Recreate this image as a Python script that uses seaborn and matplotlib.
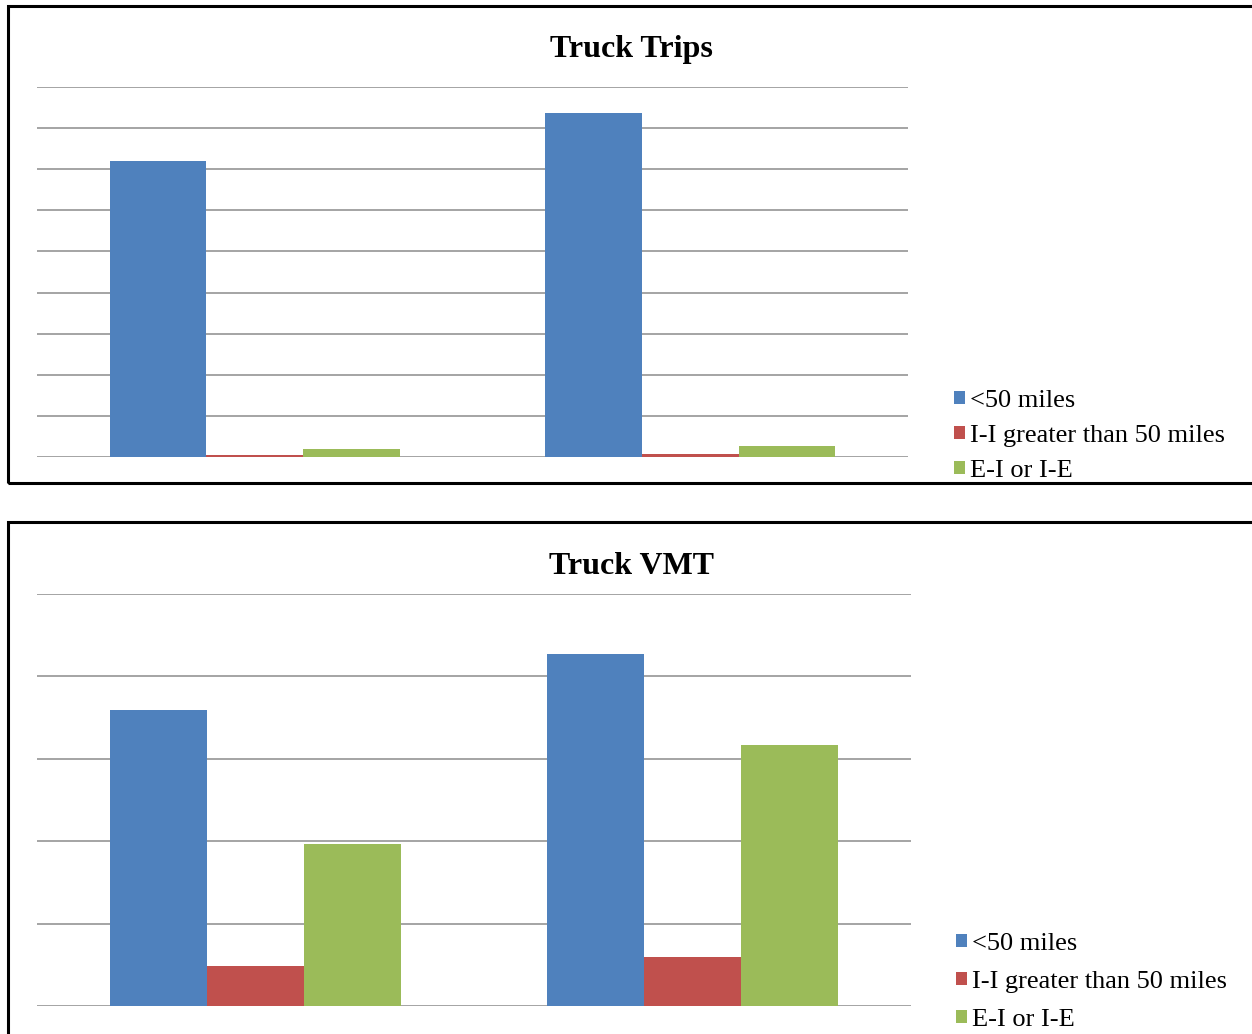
import matplotlib
matplotlib.use("Agg")
import matplotlib.pyplot as plt
import matplotlib.patches as mpatches
import pandas as pd
import seaborn as sns

# values read off the gridlines (units = gridline steps, no axis labels in the source)
groups = ["Group 1", "Group 2"]
trip_types = ["<50 miles", "I-I greater than 50 miles", "E-I or I-E"]
trips_lt50 = [7.2, 8.37]
trips_ii50 = [0.05, 0.08]
trips_ei = [0.19, 0.27]
vmt_lt50 = [3.59, 4.27]
vmt_ii50 = [0.485, 0.595]
vmt_ei = [1.97, 3.17]

palette = {"<50 miles": "#4f81bd", "I-I greater than 50 miles": "#c0504d",
           "E-I or I-E": "#9bbb59"}

def make_df(a, b, c):
    rows = []
    for series, vals in zip(trip_types, [a, b, c]):
        for g, v in zip(groups, vals):
            rows.append({"group": g, "type": series, "value": v})
    return pd.DataFrame(rows)

trips_df = make_df(trips_lt50, trips_ii50, trips_ei)
vmt_df = make_df(vmt_lt50, vmt_ii50, vmt_ei)

sns.set_style("white")
plt.rcParams["font.family"] = ["Liberation Serif", "DejaVu Serif"]
plt.rcParams["text.color"] = "black"

W, H = 1252, 1034
fig = plt.figure(figsize=(W / 100, H / 100), dpi=100)

# panel frames
for (x0, y0, x1, y1) in [(8, 6, 1260, 483), (8, 522, 1260, 1045)]:
    fig.patches.append(mpatches.Rectangle(
        (x0 / W, 1 - y1 / H), (x1 - x0) / W, (y1 - y0) / H,
        transform=fig.transFigure, fill=False, edgecolor="black", lw=2.2))

def panel(df, rect, ymax, title, title_y, leg_y, leg_x, leg_space):
    ax = fig.add_axes(rect)
    sns.barplot(data=df, x="group", y="value", hue="type", hue_order=trip_types,
                palette=palette, width=0.667, saturation=1, errorbar=None,
                linewidth=0, ax=ax)
    ax.set_ylim(0, ymax)
    ax.set_yticks(range(0, ymax + 1))
    ax.yaxis.grid(True, color="#8c8c8c", lw=1.1)
    ax.set_axisbelow(True)
    ax.tick_params(left=False, bottom=False, labelleft=False, labelbottom=False)
    for s in ax.spines.values():
        s.set_visible(False)
    ax.set_xlabel("")
    ax.set_ylabel("")
    fig.text(0.5045, 1 - title_y / H, title, ha="center", va="center",
             fontsize=23, fontweight="bold")
    handles, labels = ax.get_legend_handles_labels()
    ax.legend(handles, labels, loc="upper left",
              bbox_to_anchor=(leg_x / W, 1 - leg_y / H),
              bbox_transform=fig.transFigure, frameon=False, fontsize=19,
              handlelength=0.4, handleheight=0.4, handletextpad=0.2,
              labelspacing=leg_space, borderpad=0, borderaxespad=0)
    return ax

panel(trips_df, [37 / W, 1 - 457 / H, 871 / W, 370 / H], 9, "Truck Trips",
      50, 390, 954, 0.49)
panel(vmt_df, [37 / W, 1 - 1006 / H, 874 / W, 412 / H], 5, "Truck VMT",
      567, 933, 956, 0.61)

fig.savefig("out.png", dpi=100)
